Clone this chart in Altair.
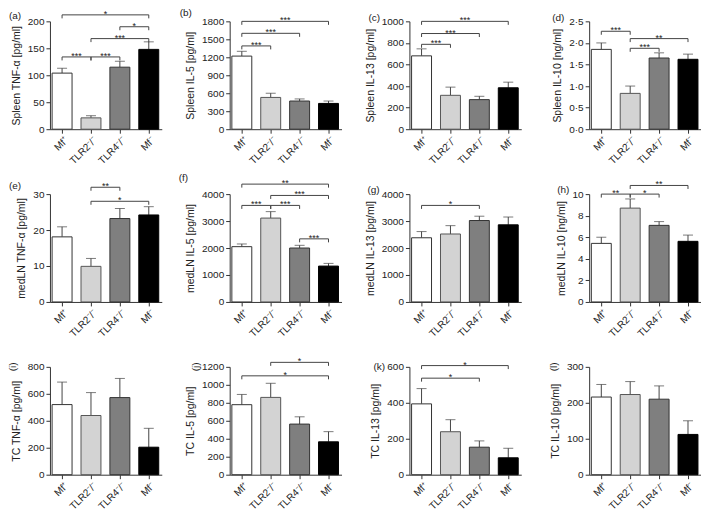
import altair as alt
import pandas as pd

FONT = "Liberation Sans"

# ---------------- data ----------------
groups = ["Mf⁺", "TLR2⁻/⁻", "TLR4⁻/⁻", "Mf⁻"]
bar_fill = ["#ffffff", "#d3d3d3", "#7f7f7f", "#000000"]
bar_stroke = ["#333333", "#555555", "#333333", "#000000"]

letters = ["(a)", "(b)", "(c)", "(d)", "(e)", "(f)", "(g)", "(h)", "(i)", "(j)", "(k)", "(l)"]
y_titles = [
    "Spleen TNF-α [pg/ml]", "Spleen IL-5 [pg/ml]", "Spleen IL-13 [pg/ml]", "Spleen IL-10 [ng/ml]",
    "medLN TNF-α [pg/ml]", "medLN IL-5 [pg/ml]", "medLN IL-13 [pg/ml]", "medLN IL-10 [ng/ml]",
    "TC TNF-α [pg/ml]", "TC IL-5 [pg/ml]", "TC IL-13 [pg/ml]", "TC IL-10 [pg/ml]",
]
y_max = [200, 1800, 1000, 2.5, 30, 4000, 4000, 10, 800, 1200, 600, 300]
y_step = [50, 300, 200, 0.5, 10, 1000, 1000, 2, 200, 200, 200, 100]

# bar means and upper end of the error bars, per panel
a_mean = [104, 21, 115, 148]
a_top = [113, 25, 126, 162]
b_mean = [1220, 530, 470, 430]
b_top = [1300, 600, 505, 470]
c_mean = [680, 314, 274, 384]
c_top = [745, 390, 305, 436]
d_mean = [1.85, 0.83, 1.65, 1.62]
d_top = [2.0, 1.0, 1.77, 1.74]
e_mean = [18.1, 9.9, 23.2, 24.2]
e_top = [20.9, 12.1, 26.0, 26.5]
f_mean = [2050, 3110, 2000, 1330]
f_top = [2150, 3350, 2100, 1430]
g_mean = [2380, 2520, 3020, 2860]
g_top = [2610, 2830, 3180, 3150]
h_mean = [5.43, 8.7, 7.1, 5.62]
h_top = [6.0, 9.55, 7.45, 6.2]
i_mean = [520, 439, 572, 204]
i_top = [687, 609, 714, 344]
j_mean = [779, 860, 563, 366]
j_top = [893, 1017, 644, 479]
k_mean = [394, 239, 153, 94]
k_top = [479, 306, 188, 147]
l_mean = [216, 223, 210, 112]
l_top = [251, 259, 247, 150]

# significance brackets: (from group, to group, height, label)
a_sig = [(0, 3, 212, "*"), (2, 3, 190, "*"), (1, 3, 168, "***"), (0, 1, 134, "***"), (1, 2, 134, "***")]
b_sig = [(0, 3, 1800, "***"), (0, 2, 1600, "***"), (0, 1, 1390, "***")]
c_sig = [(0, 3, 1000, "***"), (0, 2, 887, "***"), (0, 1, 787, "***")]
d_sig = [(0, 1, 2.27, "***"), (1, 3, 2.10, "**"), (1, 2, 1.875, "***")]
e_sig = [(1, 2, 31.9, "**"), (1, 3, 28.0, "*")]
f_sig = [(0, 3, 4370, "**"), (1, 3, 3950, "***"), (0, 1, 3580, "***"), (1, 2, 3580, "***"), (2, 3, 2340, "***")]
g_sig = [(0, 2, 3580, "*")]
h_sig = [(1, 3, 10.8, "**"), (0, 1, 10.0, "**"), (1, 2, 10.0, "*")]
i_sig = []
j_sig = [(1, 3, 1250, "*"), (0, 3, 1100, "*")]
k_sig = [(0, 3, 607, "*"), (0, 2, 537, "*")]
l_sig = []

means = [a_mean, b_mean, c_mean, d_mean, e_mean, f_mean, g_mean, h_mean, i_mean, j_mean, k_mean, l_mean]
tops = [a_top, b_top, c_top, d_top, e_top, f_top, g_top, h_top, i_top, j_top, k_top, l_top]
sigs = [a_sig, b_sig, c_sig, d_sig, e_sig, f_sig, g_sig, h_sig, i_sig, j_sig, k_sig, l_sig]

# ---------------- layout / style ----------------
W, H = 112, 108
HALF = 0.345
BRACKET_PX = 3.5
letter_dx = [-41, -50, -41, -37, -41, -51, -42, -32, -37, -34, -36, -35]
letter_dy = [-5, -8, -3, -3, -8, -16, -4, -4, 0, 0, 0, 0]
letter_angle = [0, 0, 0, 0, 0, 0, 0, 0, 270, 270, 0, 270]

label_expr = "[" + ",".join("'" + g + "'" for g in groups) + "][datum.value]"


def make_panel(idx):
    ymax = y_max[idx]
    step = y_step[idx]
    n_ticks = int(round(ymax / step))
    ticks = [round(t * step, 6) for t in range(n_ticks + 1)]

    xs = alt.Scale(domain=[-0.42, 3.45], nice=False, zero=False)
    ys = alt.Scale(domain=[0, ymax], nice=False, zero=True)
    xaxis = alt.Axis(values=[0, 1, 2, 3], labelExpr=label_expr, title=None, labelAngle=-45,
                     grid=False, labelFlush=False, labelOverlap=False)
    ykw = dict(values=ticks, title=y_titles[idx], grid=False, labelOverlap=False, labelFlush=False)
    if isinstance(step, float):
        ykw["labelExpr"] = "replace(format(datum.value, '.1f'), '.', '·')"
    else:
        ykw["format"] = "d"
    yaxis = alt.Axis(**ykw)

    def X(f):
        return alt.X(f, scale=xs, axis=xaxis)

    def Y(f):
        return alt.Y(f, scale=ys, axis=yaxis)

    df = pd.DataFrame({
        "pos": [0, 1, 2, 3],
        "mean": means[idx],
        "top": tops[idx],
        "fill": bar_fill,
        "stroke": bar_stroke,
    })
    df["left"] = df["pos"] - HALF
    df["right"] = df["pos"] + HALF

    base = alt.Chart(df)
    err = base.mark_rule(color="#444444", strokeWidth=1).encode(x=X("pos:Q"), y=Y("mean:Q"), y2="top:Q")
    cap = base.mark_tick(orient="horizontal", size=10, thickness=1, color="#444444").encode(
        x=X("pos:Q"), y=Y("top:Q"))
    bars = base.mark_rect(strokeWidth=1).encode(
        x=X("left:Q"), x2="right:Q",
        y=Y("mean:Q"), y2=alt.datum(0),
        fill=alt.Fill("fill:N", scale=None),
        stroke=alt.Stroke("stroke:N", scale=None),
    )
    layers = [err, cap, bars]

    if sigs[idx]:
        drop = ymax * BRACKET_PX / H
        bdf = pd.DataFrame(sigs[idx], columns=["g1", "g2", "y", "label"])
        bdf["ylow"] = bdf["y"] - drop
        bdf["xm"] = (bdf["g1"] + bdf["g2"]) / 2
        bb = alt.Chart(bdf)
        layers += [
            bb.mark_rule(color="#444444", strokeWidth=1).encode(x=X("g1:Q"), x2="g2:Q", y=Y("y:Q")),
            bb.mark_rule(color="#444444", strokeWidth=1).encode(x=X("g1:Q"), y=Y("y:Q"), y2="ylow:Q"),
            bb.mark_rule(color="#444444", strokeWidth=1).encode(x=X("g2:Q"), y=Y("y:Q"), y2="ylow:Q"),
            bb.mark_text(fontSize=9, baseline="alphabetic", dy=2, color="#222222", font=FONT).encode(
                x=X("xm:Q"), y=Y("y:Q"), text="label:N"),
        ]

    ang = letter_angle[idx]
    lt = alt.Chart(pd.DataFrame({"t": [letters[idx]]})).mark_text(
        align="center" if ang else "left", baseline="middle", fontSize=10, angle=ang,
        color="#222222", font=FONT,
    ).encode(text="t:N", x=alt.value(letter_dx[idx]), y=alt.value(letter_dy[idx]))
    layers.append(lt)

    return alt.layer(*layers).properties(width=W, height=H)


panels = [make_panel(i) for i in range(12)]

chart = alt.concat(*panels, columns=4, bounds="flush", spacing={"row": 65, "column": 68}).properties(
    padding={"left": 0, "top": 0, "right": 0, "bottom": 0}
).configure_view(stroke=None).configure_axis(
    labelFont=FONT, titleFont=FONT, labelFontSize=10, titleFontSize=10.5,
    titleFontWeight="normal", labelColor="#222222", titleColor="#222222",
    domainColor="#333333", tickColor="#333333", tickSize=4, labelPadding=2,
    titlePadding=6, domainWidth=1, tickWidth=1,
)

chart.save("out.html", embed_options={"renderer": "svg", "actions": False})
